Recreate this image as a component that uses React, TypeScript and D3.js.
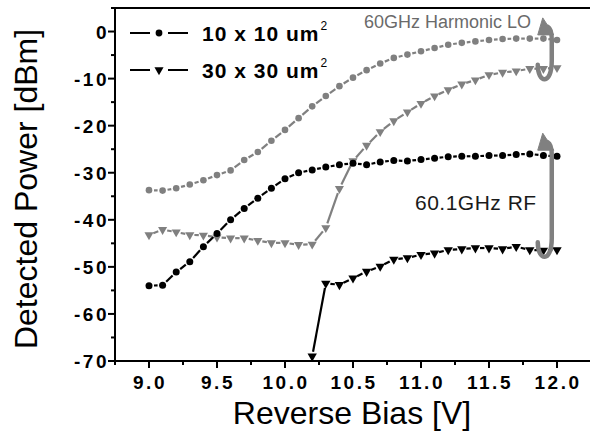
import React from 'react';
import * as d3 from 'd3';

// canvas and plot frame
const W = 590;
const H = 443;
const LEFT = 115;
const RIGHT = 591;
const TOP = 8;
const BOTTOM = 361;

// reverse bias [V]
const bias = [9.0, 9.1, 9.2, 9.3, 9.4, 9.5, 9.6, 9.7, 9.8, 9.9, 10.0, 10.1, 10.2, 10.3, 10.4, 10.5,
  10.6, 10.7, 10.8, 10.9, 11.0, 11.1, 11.2, 11.3, 11.4, 11.5, 11.6, 11.7, 11.8, 11.9, 12.0];

// 10x10 um2, 60.1GHz RF (black circles)
const rf10 = [-54.0, -53.9, -51.1, -48.9, -45.7, -42.9, -40.0, -37.6, -35.4, -33.3, -31.3, -30.0, -29.4,
  -28.8, -28.3, -28.0, -28.3, -27.7, -27.4, -27.5, -27.2, -26.9, -26.6, -26.5, -26.5, -26.35, -26.35,
  -26.1, -26.0, -26.35, -26.5];

// 10x10 um2, 60GHz harmonic LO (grey circles)
const lo10 = [-33.7, -33.8, -33.3, -32.5, -31.6, -30.5, -29.5, -27.3, -25.6, -23.2, -20.9, -18.4, -15.9,
  -13.7, -11.6, -9.8, -8.2, -6.8, -5.6, -4.9, -4.2, -3.5, -2.8, -2.4, -2.1, -1.8, -1.6, -1.5, -1.5,
  -1.5, -1.8];

// 30x30 um2, 60GHz harmonic LO (grey triangles)
const lo30 = [-43.2, -42.1, -42.6, -43.2, -43.3, -43.7, -43.9, -43.9, -44.4, -44.9, -44.9, -45.3, -45.2,
  -41.7, -33.4, -27.5, -24.2, -21.3, -19.0, -17.1, -15.3, -13.7, -12.4, -11.2, -10.3, -9.2, -8.7,
  -8.4, -7.9, -7.9, -7.7];

// 30x30 um2, 60.1GHz RF (black triangles), nothing measured below 10.2 V
const rf30 = [null, null, null, null, null, null, null, null, null, null, null, null, -69.0,
  -53.5, -53.8, -52.4, -51.0, -49.9, -48.4, -48.1, -47.4, -47.1, -46.4, -46.2, -46.0, -46.0, -46.2,
  -45.7, -46.4, -46.5, -46.4];

const xTicks = [9.0, 9.5, 10.0, 10.5, 11.0, 11.5, 12.0];
const yTicks = [0, -10, -20, -30, -40, -50, -60, -70];

const x = d3.scaleLinear().domain([8.75, 12.25]).range([LEFT, RIGHT]);
const y = d3.scaleLinear().domain([-70, 5]).range([BOTTOM, TOP]);

const xMinor = d3.range(8.75, 12.26, 0.25);
const yMinor = d3.range(-70, 5.1, 5);

const GREY = '#808080';
const FONT = '"Liberation Sans", Arial, sans-serif';

const triUp = (s: number) => d3.symbol().type(d3.symbolTriangle).size(s)() as string;

// solid line with a gap around each symbol (Origin style)
function segments(vals: (number | null)[], gap: number) {
  const pts = vals.map((v, i) => (v == null ? null : [x(bias[i]), y(v)]));
  const out: number[][] = [];
  for (let i = 0; i < pts.length - 1; i++) {
    const a = pts[i], b = pts[i + 1];
    if (!a || !b) continue;
    const dx = b[0] - a[0], dy = b[1] - a[1];
    const len = Math.hypot(dx, dy);
    if (len <= gap * 2) continue;
    const ux = dx / len, uy = dy / len;
    out.push([a[0] + ux * gap, a[1] + uy * gap, b[0] - ux * gap, b[1] - uy * gap]);
  }
  return out;
}

function Series({ vals, color, marker }: { vals: (number | null)[]; color: string; marker: 'circle' | 'tri' }) {
  const gap = marker === 'circle' ? 5 : 4.6;
  return (
    <g>
      {segments(vals, gap).map((s, i) => (
        <line key={i} x1={s[0]} y1={s[1]} x2={s[2]} y2={s[3]} stroke={color} strokeWidth={2.2} />
      ))}
      {vals.map((v, i) =>
        v == null ? null : marker === 'circle' ? (
          <circle key={'m' + i} cx={x(bias[i])} cy={y(v)} r={color === GREY ? 3.3 : 3.5} fill={color} />
        ) : (
          <path key={'m' + i} d={triUp(color === GREY ? 36 : 38)}
            transform={`translate(${x(bias[i])},${y(v)}) rotate(180)`} fill={color} />
        )
      )}
    </g>
  );
}

// curved grey arrow spanning the two curves of one signal
function LoopArrow({ cx, yTop, yBot }: { cx: number; yTop: number; yBot: number }) {
  const shaft = `M ${cx - 7} ${yBot - 18} C ${cx - 7} ${yBot + 1}, ${cx + 7} ${yBot + 3}, ${cx + 7} ${yBot - 22}
    L ${cx + 7} ${yTop + 22} C ${cx + 7} ${yTop + 14}, ${cx + 5} ${yTop + 10}, ${cx + 3} ${yTop + 9}`;
  const head = `M ${cx - 2} ${yTop} L ${cx + 9} ${yTop + 17} L ${cx - 7} ${yTop + 17} Z`;
  return (
    <g>
      <path d={shaft} fill="none" stroke={GREY} strokeWidth={4.5} strokeLinecap="round" />
      <path d={head} fill={GREY} stroke={GREY} strokeWidth={1} strokeLinejoin="round" />
    </g>
  );
}

export default function App() {
  const legend = [
    { label: '10 x 10 um', marker: 'circle', yy: 33 },
    { label: '30 x 30 um', marker: 'tri', yy: 70 },
  ];
  return (
    <svg width={W} height={H} style={{ position: 'absolute', left: 0, top: 0, background: '#fff' }}
      fontFamily={FONT}>
      <rect width={W} height={H} fill="#fff" />

      {/* frame */}
      <line x1={LEFT} x2={W} y1={TOP} y2={TOP} stroke="#000" strokeWidth={2} />
      <line x1={LEFT} x2={LEFT} y1={TOP - 1} y2={BOTTOM + 1} stroke="#000" strokeWidth={2} />
      <line x1={LEFT - 1} x2={W} y1={BOTTOM} y2={BOTTOM} stroke="#000" strokeWidth={2} />

      {/* ticks */}
      {xMinor.map((t, i) => {
        const major = xTicks.some((m) => Math.abs(m - t) < 1e-6);
        return <line key={'xm' + i} x1={x(t)} x2={x(t)} y1={BOTTOM} y2={BOTTOM + (major ? 7 : 4)}
          stroke="#000" strokeWidth={2} />;
      })}
      {yMinor.map((t, i) => {
        const major = yTicks.some((m) => Math.abs(m - t) < 1e-6);
        return <line key={'ym' + i} x1={LEFT} x2={LEFT - (major ? 7 : 4)} y1={y(t)} y2={y(t)}
          stroke="#000" strokeWidth={2} />;
      })}
      {xTicks.map((t) => (
        <text key={'xl' + t} x={x(t) + 1} y={389} textAnchor="middle" fontSize={19} fontWeight="bold"
          letterSpacing={2.5}>{t.toFixed(1)}</text>
      ))}
      {yTicks.map((t) => (
        <text key={'yl' + t} x={109} y={y(t) + 7} textAnchor="end" fontSize={19} fontWeight="bold"
          letterSpacing={2.5}>{t}</text>
      ))}

      {/* axis titles */}
      <text x={352} y={424} textAnchor="middle" fontSize={32}>Reverse Bias [V]</text>
      <text transform={`translate(37,189) rotate(-90)`} textAnchor="middle" fontSize={32}>
        Detected Power [dBm]
      </text>

      {/* data */}
      <Series vals={lo10} color={GREY} marker="circle" />
      <Series vals={lo30} color={GREY} marker="tri" />
      <Series vals={rf10} color="#000" marker="circle" />
      <Series vals={rf30} color="#000" marker="tri" />

      {/* annotations */}
      <LoopArrow cx={x(11.91)} yTop={y(2.9)} yBot={y(-10.9)} />
      <LoopArrow cx={x(11.91)} yTop={y(-21.6)} yBot={y(-48.6)} />
      <text x={364} y={28} fontSize={18} fill="#6a6a6a">60GHz Harmonic LO</text>
      <text x={415} y={210} fontSize={21} fill="#1a1a1a" letterSpacing={0.5}>60.1GHz RF</text>

      {/* legend */}
      {legend.map((l) => (
        <g key={l.label}>
          <line x1={130} x2={150} y1={l.yy} y2={l.yy} stroke="#000" strokeWidth={2} />
          <line x1={168} x2={188} y1={l.yy} y2={l.yy} stroke="#000" strokeWidth={2} />
          {l.marker === 'circle' ? (
            <circle cx={159} cy={l.yy} r={3.4} fill="#000" />
          ) : (
            <path d={triUp(36)} transform={`translate(159,${l.yy}) rotate(180)`} fill="#000" />
          )}
          <text x={202} y={l.yy + 8} fontSize={21} fontWeight="bold" letterSpacing={1}>
            {l.label}
            <tspan dx={1} dy={-11} fontSize={12} fontWeight="normal" letterSpacing={0}>2</tspan>
          </text>
        </g>
      ))}
    </svg>
  );
}
